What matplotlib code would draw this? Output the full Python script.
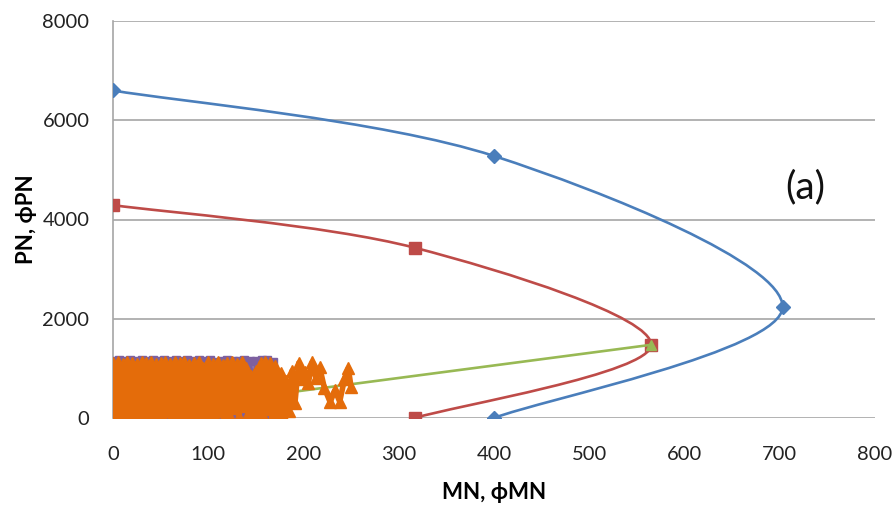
import numpy as np
import matplotlib
matplotlib.use("Agg")
import matplotlib.pyplot as plt
from matplotlib.path import Path
from matplotlib.patches import PathPatch

# ---- data ----
blue_x = [0, 400, 703, 400]
blue_y = [6600, 5280, 2240, 0]
red_x = [0, 317, 565, 317]
red_y = [4290, 3430, 1475, 0]
green_x = [0, 565]
green_y = [50, 1475]

purple_x = [0, 3, 6, 9, 12, 15, 18, 21, 24, 27, 30, 33, 36, 39, 42, 45, 48, 51, 54, 57,
            60, 63, 66, 69, 72, 75, 78, 81, 84, 87, 90, 93, 96, 99, 102, 105, 108, 111,
            114, 117, 120, 123, 126, 129, 132, 135, 138, 141, 144, 147, 150, 153, 156,
            159, 162, 165, 168]
purple_y = [1150, 40, 1160, 0, 1140, 100, 1170, 20, 1150, 60, 1160, 0, 1140, 80, 1170, 10,
            1150, 50, 1160, 0, 1140, 90, 1170, 30, 1150, 0, 1160, 70, 1140, 20, 1170, 0,
            1150, 60, 1160, 10, 1130, 80, 1150, 0, 1160, 40, 1140, 20, 1150, 0, 1160, 60,
            1150, 0, 1140, 30, 1160, 80, 1170, 20, 1120]

orange_x = [0, 2, 5, 7, 10, 12, 15, 17, 20, 22, 25, 27, 30, 32, 35, 37, 40, 42, 45, 47,
            50, 52, 55, 57, 60, 62, 65, 67, 70, 72, 75, 77, 80, 82, 85, 87, 90, 92, 95, 97,
            100, 102, 105, 107, 110, 112, 115, 117, 120, 122, 125, 127, 130, 132, 135, 137,
            140, 142, 145, 147, 150, 152, 155, 157, 160, 162, 165, 167, 170,
            173, 176, 179, 182, 185, 188, 191, 195, 199, 202, 205, 209, 213, 217, 222,
            228, 233, 238, 243, 247, 250]
orange_y = [1100, 20, 1120, 80, 1080, 0, 1130, 60, 1110, 10, 1090, 120, 1120, 30, 1100, 0,
            1130, 90, 1080, 20, 1110, 0, 1120, 140, 1090, 40, 1130, 0, 1100, 70, 1120, 10,
            1060, 110, 1110, 0, 1130, 50, 1000, 0, 1120, 80, 1090, 20, 1130, 150, 1060, 0,
            1110, 60, 1120, 200, 1080, 30, 1130, 250, 1000, 80, 850, 0, 950, 120, 1100, 40,
            1130, 180, 1110, 0, 1050,
            100, 900, 50, 750, 150, 950, 300, 1110, 780, 920, 700, 1120, 800, 1020, 600,
            320, 560, 330, 780, 1000, 620]

x_ticks = [0, 100, 200, 300, 400, 500, 600, 700, 800]
y_ticks = [0, 2000, 4000, 6000, 8000]

C_BLUE = "#4A7EBB"
C_RED = "#BE4B48"
C_GREEN = "#98B954"
C_PURPLE = "#7D60A0"
C_ORANGE = "#E46C0A"
FAM = ["Lato", "DejaVu Sans"]

fig = plt.figure(figsize=(8.93, 5.12), dpi=100)
ax = fig.add_axes([113 / 893, 1 - 418 / 512, (875 - 113) / 893, (418 - 21) / 512])
ax.set_xlim(0, 800)
ax.set_ylim(0, 8000)

tick_font = dict(family=FAM, size=14.5, color="#222222")
ax.set_xticks(x_ticks)
ax.set_yticks(y_ticks)
ax.set_xticklabels([str(v) for v in x_ticks], **tick_font)
ax.set_yticklabels([str(v) for v in y_ticks], **tick_font)
ax.tick_params(axis="both", length=0)
ax.tick_params(axis="y", pad=17)
ax.tick_params(axis="x", pad=20)

ax.grid(axis="y", color="#A6A6A6", lw=1.2)
ax.set_axisbelow(True)
for s in ["top", "right", "bottom"]:
    ax.spines[s].set_visible(False)
ax.spines["left"].set_color("#A6A6A6")
ax.spines["left"].set_linewidth(1.2)


def smooth_path(xs, ys, t=1.0 / 6):
    pts = ax.transData.transform(np.column_stack([xs, ys]))
    n = len(pts)
    verts = [pts[0]]
    codes = [Path.MOVETO]
    for i in range(n - 1):
        p0 = pts[i - 1] if i > 0 else pts[i]
        p1 = pts[i]
        p2 = pts[i + 1]
        p3 = pts[i + 2] if i + 2 < n else pts[i + 1]
        c1 = p1 + (p2 - p0) * t
        c2 = p2 - (p3 - p1) * t
        verts += [c1, c2, p2]
        codes += [Path.CURVE4] * 3
    verts = ax.transData.inverted().transform(np.array(verts))
    return Path(verts, codes)


for xs, ys, c in [(blue_x, blue_y, C_BLUE), (red_x, red_y, C_RED)]:
    ax.add_patch(PathPatch(smooth_path(xs, ys), fill=False, edgecolor=c, lw=1.9,
                           zorder=3))

ax.plot(blue_x, blue_y, ls="none", marker="D", ms=7, color=C_BLUE, zorder=4)
ax.plot(red_x, red_y, ls="none", marker="s", ms=8, color=C_RED, zorder=4)
ax.plot(green_x, green_y, color=C_GREEN, lw=1.9, marker="^", ms=7, zorder=5)

ax.plot(purple_x, purple_y, color=C_PURPLE, lw=3.5, marker="s", ms=6, zorder=6)
ax.plot(orange_x, orange_y, color=C_ORANGE, lw=4.0, marker="^", ms=9,
        solid_joinstyle="round", zorder=7)

ax.set_xlabel("MN, ϕMN", fontdict=dict(family=FAM, size=16, weight="bold"), labelpad=14)
ax.set_ylabel("PN, ϕPN", fontdict=dict(family=FAM, size=16, weight="bold"), labelpad=4)
ax.text(727, 4650, "(a)", fontsize=28, family=FAM, ha="center", va="center",
        color="#111111")

fig.savefig("out.png", dpi=100)
